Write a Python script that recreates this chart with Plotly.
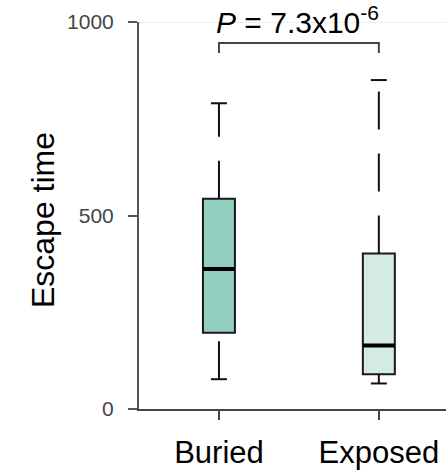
import plotly.graph_objects as go

categories = ["Buried", "Exposed"]
positions = [0, 1]
q1 = [197, 90]
median = [362, 164]
q3 = [543, 402]
whisker_low = [77, 66]
whisker_high = [790, 850]
fills = ["#93cfc0", "#d3ebe4"]
p_label = "<i>P</i> = 7.3x10<sup>-6</sup>"
bracket_y = [920, 946]
y_ticks = [0, 500, 1000]

BOX_W = 0.2
CAP_W = 0.1
FONT = "Liberation Sans, Arial, sans-serif"

fig = go.Figure()

for i, cat in enumerate(categories):
    x = positions[i]
    fig.add_trace(go.Box(
        x=[x], q1=[q1[i]], median=[median[i]], q3=[q3[i]],
        lowerfence=[q1[i]], upperfence=[q3[i]],
        width=BOX_W, whiskerwidth=0,
        fillcolor=fills[i], line=dict(color="#1a1a1a", width=2),
        boxpoints=False, hoverinfo="skip", showlegend=False,
    ))
    fig.add_trace(go.Scatter(
        x=[x - BOX_W / 2, x + BOX_W / 2], y=[median[i], median[i]],
        mode="lines", line=dict(color="black", width=4),
        showlegend=False, hoverinfo="skip",
    ))
    for y0, y1 in [(whisker_low[i], q1[i]), (q3[i], whisker_high[i])]:
        fig.add_trace(go.Scatter(
            x=[x, x], y=[y0, y1], mode="lines",
            line=dict(color="#111111", width=2, dash="38px,24px"),
            showlegend=False, hoverinfo="skip",
        ))
    for yc in [whisker_low[i], whisker_high[i]]:
        fig.add_trace(go.Scatter(
            x=[x - CAP_W / 2, x + CAP_W / 2], y=[yc, yc], mode="lines",
            line=dict(color="#111111", width=2),
            showlegend=False, hoverinfo="skip",
        ))

fig.add_trace(go.Scatter(
    x=[positions[0], positions[0], positions[1], positions[1]],
    y=[bracket_y[0], bracket_y[1], bracket_y[1], bracket_y[0]],
    mode="lines", line=dict(color="#444444", width=2),
    showlegend=False, hoverinfo="skip", cliponaxis=False,
))

fig.add_annotation(
    x=(positions[0] + positions[1]) / 2 - 0.01, y=1.005, xref="x", yref="paper",
    text=p_label, showarrow=False, yanchor="middle",
    font=dict(family=FONT, size=30, color="black"),
)

fig.add_annotation(
    x=-0.313, y=0.488, xref="paper", yref="paper",
    text="Escape time", textangle=-90, showarrow=False,
    xanchor="center", yanchor="middle",
    font=dict(family=FONT, size=32, color="black"),
)

fig.add_shape(type="line", xref="paper", yref="y", x0=0, x1=1, y0=1000, y1=1000,
              line=dict(color="#dddddd", width=1), layer="below")

fig.update_layout(
    width=446, height=476,
    margin=dict(l=139, r=0, t=22, b=67),
    paper_bgcolor="white", plot_bgcolor="white",
    font=dict(family=FONT),
    showlegend=False,
)
fig.update_xaxes(
    range=[-0.5, 1.42], tickvals=positions, ticktext=categories,
    showline=True, linecolor="#444444", linewidth=2,
    ticks="outside", ticklen=9, tickwidth=2, tickcolor="#444444",
    tickfont=dict(size=31, color="black"), ticklabelstandoff=6,
    showgrid=False, zeroline=False,
)
fig.update_yaxes(
    range=[0, 1000], tickvals=y_ticks,
    showline=True, linecolor="#555555", linewidth=2,
    ticks="outside", ticklen=9, tickwidth=2, tickcolor="#555555",
    tickfont=dict(size=21, color="#444444"), ticklabelstandoff=10,
    showgrid=False, zeroline=False,
)

fig.write_html("out.html")
